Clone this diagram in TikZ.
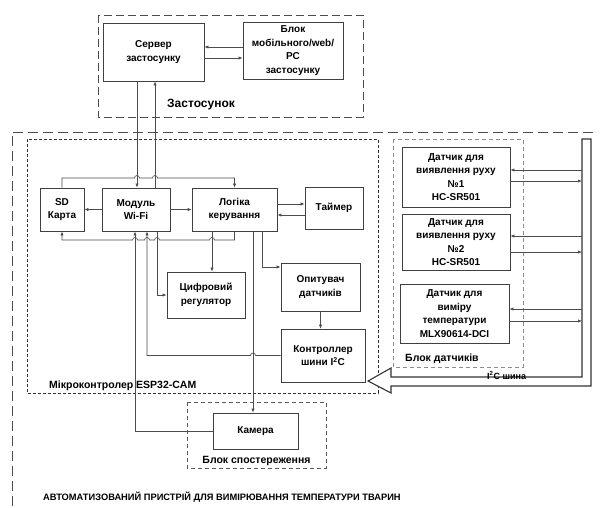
\documentclass[tikz,border=0pt]{standalone}
\usepackage{fontspec}
\setmainfont{Liberation Sans}
\usetikzlibrary{arrows.meta}
\begin{document}
\begin{tikzpicture}[x=1pt,y=-1pt,
  box/.style={draw=black!75,line width=0.7pt,fill=white,align=center,
    font=\bfseries\fontsize{10}{13.5}\selectfont,inner sep=1pt},
  ln/.style={draw=black!70,line width=0.65pt},
  arr/.style={ln,-{Latex[length=4pt,width=3.2pt]}},
  lbl/.style={font=\bfseries\fontsize{10.5}{12}\selectfont,inner sep=0pt},
]
\useasboundingbox (0,0) rectangle (602,507);
\fill[white] (0,0) rectangle (602,507);

% helper coordinates (columns and rows)
\coordinate (c135) at (135,0);
\coordinate (c137) at (137,0);
\coordinate (c147) at (147,0);
\coordinate (c155) at (155,0);
\coordinate (c157) at (157,0);
\coordinate (c212) at (212,0);
\coordinate (c253) at (253,0);
\coordinate (c262) at (262,0);
\coordinate (bus) at (582,0);
\coordinate (r47) at (0,47);
\coordinate (r58) at (0,58);
\coordinate (r204) at (0,204);
\coordinate (r215) at (0,215);
\coordinate (r267) at (0,267);
\coordinate (r170) at (0,170);
\coordinate (r181) at (0,181);
\coordinate (r236) at (0,236);
\coordinate (r252) at (0,252);
\coordinate (r309) at (0,309);
\coordinate (r321) at (0,321);

% frames
\draw[black!70,line width=0.8pt,dash pattern=on 10pt off 5pt] (593,132) -- (12,132) -- (12,512);
\draw[black!70,line width=0.8pt,dash pattern=on 8pt off 4pt] (98,15) rectangle (363,117);
\draw[black!80,line width=0.7pt,dash pattern=on 3pt off 2pt] (27,139) rectangle (378,393);
\draw[black!45,line width=0.8pt,dash pattern=on 4pt off 3pt] (393,139) rectangle (523,367);
\draw[black!65,line width=0.7pt,dash pattern=on 4pt off 3pt] (187,402) rectangle (326,468);

% boxes
\node[box,minimum width=101pt,minimum height=58pt] (server) at (153.5,52) {Сервер\\застосунку};
\node[box,minimum width=100pt,minimum height=57pt] (mobile) at (293,50.5) {Блок\\мобільного/web/\\PC\\застосунку};
\node[box,minimum width=44pt,minimum height=43pt] (sd) at (62,209.5) {SD\\Карта};
\node[box,minimum width=68pt,minimum height=43pt] (wifi) at (136,209.5) {Модуль\\Wi-Fi};
\node[box,minimum width=85pt,minimum height=43pt] (logic) at (234.5,209.5) {Логіка\\керування};
\node[box,minimum width=58pt,minimum height=42pt] (timer) at (334,208) {Таймер};
\node[box,minimum width=78pt,minimum height=46pt] (digital) at (206,295) {Цифровий\\регулятор};
\node[box,minimum width=79pt,minimum height=48pt] (poller) at (320.5,287) {Опитувач\\датчиків};
\node[box,minimum width=84pt,minimum height=53pt] (i2c) at (323,355.5) {Контроллер\\шини I\textsuperscript{2}C};
\node[box,minimum width=85pt,minimum height=36pt] (camera) at (255.5,431) {Камера};
\node[box,minimum width=108pt,minimum height=60pt] (s1) at (456,177) {Датчик для\\виявлення руху\\№1\\HC-SR501};
\node[box,minimum width=108pt,minimum height=56pt] (s2) at (456,242) {Датчик для\\виявлення руху\\№2\\HC-SR501};
\node[box,minimum width=109pt,minimum height=59pt] (s3) at (454.5,313.5) {Датчик для\\виміру\\температури\\MLX90614-DCI};

% labels
\node[lbl,font=\bfseries\fontsize{12}{14}\selectfont,anchor=west] (lapp) at (167,105) {Застосунок};
\node[lbl,anchor=west] (lmcu) at (49,386) {Мікроконтролер ESP32-CAM};
\node[lbl,anchor=west] (lsens) at (405,359) {Блок датчиків};
\node[lbl,anchor=center] (lcam) at (256.5,461) {Блок спостереження};
\node[lbl,font=\bfseries\fontsize{9.3}{11}\selectfont,anchor=west] (title) at (43,497) {АВТОМАТИЗОВАНИЙ ПРИСТРІЙ ДЛЯ ВИМІРЮВАННЯ ТЕМПЕРАТУРИ ТВАРИН};

% bus (hollow wide arrow)
\draw[black!80,line width=1.1pt,fill=white,line join=miter]
  (582,139) -- (591,139) -- (591,386) -- (391,386) -- (391,393) -- (368,381)
  -- (391,368) -- (391,377) -- (582,377) -- cycle;
\node[lbl,font=\bfseries\fontsize{9}{10}\selectfont,anchor=west] (lbus) at (487,375.5) {I\textsuperscript{2}C шина};

% connectors: application
\draw[arr] (mobile.west |- r47) -- (server.east |- r47);
\draw[arr] (server.east |- r58) -- (mobile.west |- r58);
\draw[arr] (server.south -| c137) -- (wifi.north -| c137);
\draw[arr] (wifi.north -| c155) -- (server.south -| c155);

% SD top -> logic top (with hops)
\draw[arr] (sd.north) |- (134.5,178) arc[start angle=180,end angle=0,radius=2.5pt]
  -- (152.5,178) arc[start angle=180,end angle=0,radius=2.5pt] -| (logic.north);
% logic bottom -> SD bottom (with hops)
\draw[arr] (logic.south) |- (214.5,240) arc[start angle=0,end angle=180,radius=2.5pt]
  -- (159.5,240) arc[start angle=0,end angle=180,radius=2.5pt]
  -- (149.5,240) arc[start angle=0,end angle=180,radius=2.5pt]
  -- (137.5,240) arc[start angle=0,end angle=180,radius=2.5pt] -| (sd.south);

\draw[arr] (wifi.west) -- (sd.east);
\draw[arr] (wifi.east) -- (logic.west);
\draw[arr] (logic.east |- r204) -- (timer.west |- r204);
\draw[arr] (timer.west |- r215) -- (logic.east |- r215);

\draw[arr] (logic.south -| c212) -- (digital.north -| c212);
\draw[arr] (wifi.south -| c157) |- (digital.west);
\draw[arr] (logic.south -| c262) |- (poller.west |- r267);
\draw[arr] (logic.south -| c253) -- (camera.north -| c253);
\draw[arr] (poller.south) -- (poller.south |- i2c.north);
\draw[arr] (i2c.west) -- (255.5,355.5) arc[start angle=0,end angle=180,radius=2.5pt] -| (wifi.south -| c147);
\draw[arr] (camera.west) -| (wifi.south -| c135);

% sensors <-> bus
\draw[arr] (bus |- r170) -- (s1.east |- r170);
\draw[arr] (s1.east |- r181) -- (bus |- r181);
\draw[arr] (bus |- r236) -- (s2.east |- r236);
\draw[arr] (s2.east |- r252) -- (bus |- r252);
\draw[arr] (bus |- r309) -- (s3.east |- r309);
\draw[arr] (s3.east |- r321) -- (bus |- r321);
\end{tikzpicture}
\end{document}
